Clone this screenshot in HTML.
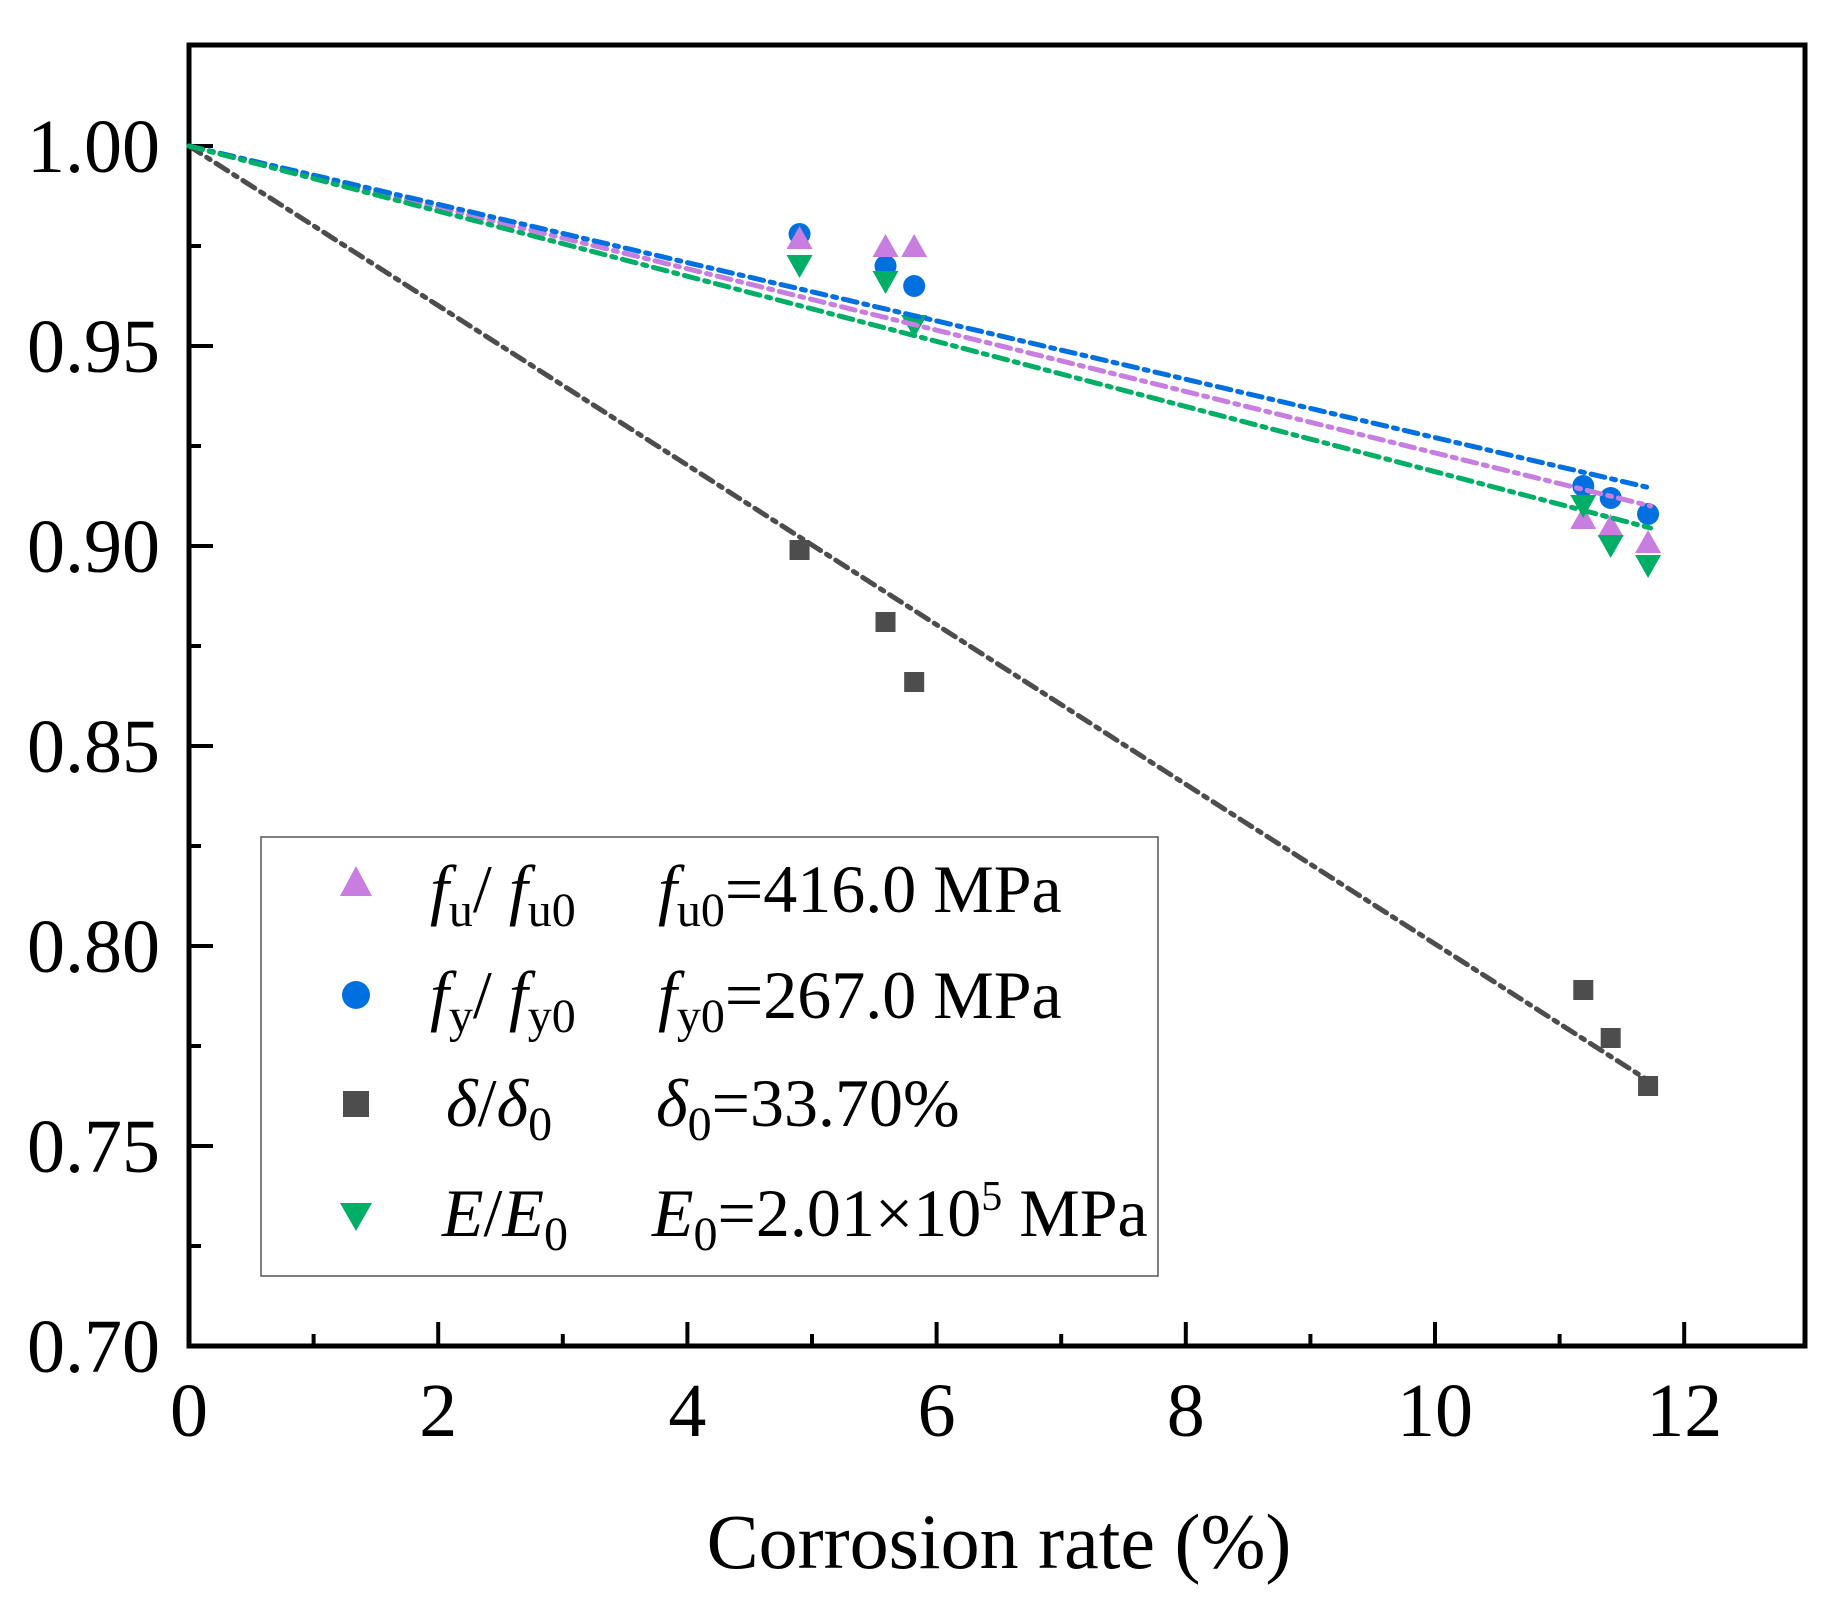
<!DOCTYPE html>
<html><head><meta charset="utf-8"><style>
html,body{margin:0;padding:0;background:#fff;}
svg{display:block;}
text{font-family:"Liberation Serif",serif;fill:#000;}
</style></head><body>
<svg id="chart" width="1833" height="1601" viewBox="0 0 1833 1601" xmlns="http://www.w3.org/2000/svg">
<g id="grid-layer"></g>
<g id="marks"></g>
<g id="legend">
<rect x="261" y="837" width="897" height="439" fill="#fff" stroke="#555" stroke-width="1.5"/>
<polygon points="356,866 372,896 340,896" fill="#c77ee0"/>
<circle cx="356" cy="995" r="14" fill="#0070e0"/>
<rect x="343" y="1091" width="26" height="26" fill="#4d4d4d"/>
<polygon points="340,1203 372,1203 356,1231" fill="#00ae66"/>
<text x="430" y="912" font-size="68"><tspan font-style="italic">f</tspan><tspan font-size="48" dy="14">u</tspan><tspan dy="-14">/</tspan><tspan font-style="italic"> f</tspan><tspan font-size="48" dy="14">u0</tspan></text>
<text x="658" y="912" font-size="68"><tspan font-style="italic">f</tspan><tspan font-size="48" dy="14">u0</tspan><tspan dy="-14">=416.0 MPa</tspan></text>
<text x="430" y="1018" font-size="68"><tspan font-style="italic">f</tspan><tspan font-size="48" dy="14">y</tspan><tspan dy="-14">/</tspan><tspan font-style="italic"> f</tspan><tspan font-size="48" dy="14">y0</tspan></text>
<text x="658" y="1018" font-size="68"><tspan font-style="italic">f</tspan><tspan font-size="48" dy="14">y0</tspan><tspan dy="-14">=267.0 MPa</tspan></text>
<text x="446" y="1126" font-size="68"><tspan font-style="italic">δ</tspan><tspan>/</tspan><tspan font-style="italic">δ</tspan><tspan font-size="48" dy="14">0</tspan></text>
<text x="656" y="1126" font-size="68"><tspan font-style="italic">δ</tspan><tspan font-size="48" dy="14">0</tspan><tspan dy="-14">=33.70%</tspan></text>
<text x="442" y="1236" font-size="68"><tspan font-style="italic">E</tspan><tspan>/</tspan><tspan font-style="italic">E</tspan><tspan font-size="48" dy="14">0</tspan></text>
<text x="652" y="1236" font-size="68"><tspan font-style="italic">E</tspan><tspan font-size="48" dy="14">0</tspan><tspan dy="-14">=2.01×10</tspan><tspan font-size="42" dy="-26">5</tspan><tspan dy="26"> MPa</tspan></text>
</g>
<text x="999" y="1568" font-size="78" text-anchor="middle">Corrosion rate (%)</text>
</svg>
<script>
const xs = [4.90, 5.59, 5.82, 11.19, 11.41, 11.71];
const fuVals = [0.977, 0.975, 0.975, 0.907, 0.905, 0.901];
const fyVals = [0.978, 0.970, 0.965, 0.915, 0.912, 0.908];
const deltaVals = [0.899, 0.881, 0.866, 0.789, 0.777, 0.765];
const eVals = [0.970, 0.966, 0.955, 0.910, 0.900, 0.895];
const fitEndX = 11.73;
const fitEnds = [0.910, 0.9145, 0.766, 0.9045];
const xTicks = [0, 2, 4, 6, 8, 10, 12];
const yTicks = [0.70, 0.75, 0.80, 0.85, 0.90, 0.95, 1.00];
const yTickLabels = ["0.70", "0.75", "0.80", "0.85", "0.90", "0.95", "1.00"];

const NS = "http://www.w3.org/2000/svg";
const L = 189, R = 1805, T = 45, B = 1346;
function X(v){ return 189 + v * 124.6; }
function Y(v){ return 146 + (1 - v) * 4000; }
function mk(tag, attrs, parent){
  const e = document.createElementNS(NS, tag);
  for (const k in attrs) e.setAttribute(k, attrs[k]);
  parent.appendChild(e); return e;
}
const ax = document.getElementById('grid-layer');
const mg = document.getElementById('marks');

xTicks.forEach((t, i) => {
  const tk = mk('line', {x1: X(t), x2: X(t), y1: B, y2: B - 24, stroke: '#000', 'stroke-width': 4}, ax);
  
  
  if (i < xTicks.length - 1) {
    const m = mk('line', {x1: X(t + 1), x2: X(t + 1), y1: B, y2: B - 12, stroke: '#000', 'stroke-width': 4}, ax);
    
    
  }
  const lb = mk('text', {x: X(t), y: 1436, 'font-size': 76, 'text-anchor': 'middle'}, ax);
  lb.textContent = String(t);
  
  
});
yTicks.forEach((t, i) => {
  const tk = mk('line', {x1: L, x2: L + 24, y1: Y(t), y2: Y(t), stroke: '#000', 'stroke-width': 4}, ax);
  
  
  if (i < yTicks.length - 1) {
    const m = mk('line', {x1: L, x2: L + 12, y1: Y(t + 0.025), y2: Y(t + 0.025), stroke: '#000', 'stroke-width': 4}, ax);
    
    
  }
  const lb = mk('text', {x: 160, y: Y(t) + 26, 'font-size': 76, 'text-anchor': 'end'}, ax);
  lb.textContent = yTickLabels[i];
  
  
});
const frame = mk('rect', {x: L, y: T, width: R - L, height: B - T, fill: 'none', stroke: '#000', 'stroke-width': 5}, ax);



xs.forEach((x, i) => {
  const s = mk('rect', {x: X(x) - 10, y: Y(deltaVals[i]) - 10, width: 20, height: 20, fill: '#4d4d4d'}, mg);
  
  
});
xs.forEach((x, i) => {
  const c = mk('circle', {cx: X(x), cy: Y(fyVals[i]), r: 11, fill: '#0070e0'}, mg);
  
  
});
xs.forEach((x, i) => {
  const cx = X(x), cy = Y(fuVals[i]);
  const p = mk('polygon', {points: `${cx},${cy-12} ${cx+13},${cy+11} ${cx-13},${cy+11}`, fill: '#c77ee0'}, mg);
  
  
});
xs.forEach((x, i) => {
  const cx = X(x), cy = Y(eVals[i]);
  const p = mk('polygon', {points: `${cx-13},${cy-11} ${cx+13},${cy-11} ${cx},${cy+12}`, fill: '#00ae66'}, mg);
  
  
});
const fitColors = ['#c77ee0', '#0070e0', '#4d4d4d', '#00ae66'];
const fitNames = ['fu-fit-line', 'fy-fit-line', 'delta-fit-line', 'e-fit-line'];
fitEnds.forEach((v, i) => {
  const ln = mk('line', {x1: X(0), y1: Y(1), x2: X(fitEndX), y2: Y(v), stroke: fitColors[i], 'stroke-width': 5, 'stroke-dasharray': '14 7 4 7', 'stroke-linecap': 'round'}, mg);
  
  
});
</script>
</body></html>
